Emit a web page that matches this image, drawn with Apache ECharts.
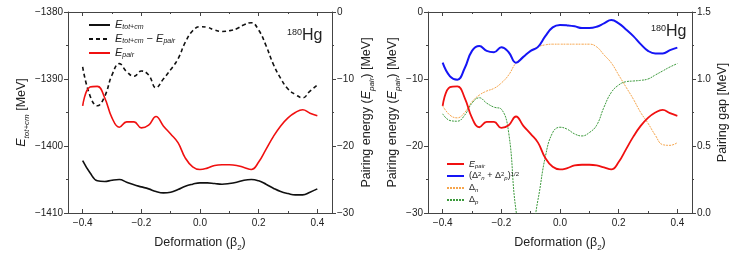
<!DOCTYPE html>
<html><head><meta charset="utf-8">
<script src="https://cdn.jsdelivr.net/npm/echarts@6/dist/echarts.min.js"></script>
<style>html,body{margin:0;padding:0;background:#fff}#c{width:747px;height:258px}</style>
</head><body><div id="c"></div>
<script>
// ---- data ----
const beta = [-0.4,-0.375,-0.35,-0.325,-0.3,-0.275,-0.25,-0.225,-0.2,-0.175,-0.15,-0.125,-0.1,-0.075,-0.05,-0.025,0,0.025,0.05,0.075,0.1,0.125,0.15,0.175,0.2,0.225,0.25,0.275,0.3,0.325,0.35,0.375,0.4];
const eTot = [-1402.2,-1404.0,-1405.2,-1405.3,-1405.1,-1405.0,-1405.4,-1405.8,-1406.1,-1406.4,-1406.8,-1407.0,-1406.9,-1406.5,-1406.0,-1405.7,-1405.5,-1405.5,-1405.6,-1405.7,-1405.6,-1405.4,-1405.1,-1405.0,-1405.2,-1405.7,-1406.3,-1406.8,-1407.1,-1407.3,-1407.3,-1406.9,-1406.4];
const eTotMinusPair = [-1388.2,-1392.5,-1394.0,-1392.6,-1389.4,-1387.7,-1388.9,-1389.6,-1388.8,-1389.4,-1391.3,-1390.0,-1388.6,-1387.0,-1384.5,-1382.8,-1382.2,-1382.3,-1382.7,-1382.9,-1382.8,-1382.5,-1381.9,-1381.6,-1382.7,-1385.0,-1387.8,-1389.9,-1391.5,-1392.3,-1392.8,-1391.8,-1390.9];
const ePair = [-14.0,-11.2,-11.1,-12.8,-15.8,-17.2,-16.4,-16.4,-17.3,-16.9,-15.6,-17.0,-18.2,-19.5,-21.8,-23.1,-23.5,-23.3,-22.9,-22.8,-22.8,-22.9,-23.2,-23.5,-22.4,-20.5,-18.6,-17.0,-15.8,-15.0,-14.6,-15.1,-15.5];
const gapTotal = [1.122,1.02,0.995,1.08,1.21,1.246,1.21,1.2,1.237,1.20,1.122,1.165,1.21,1.24,1.32,1.385,1.403,1.40,1.393,1.38,1.38,1.39,1.415,1.44,1.415,1.37,1.32,1.26,1.21,1.19,1.19,1.215,1.234];
const gapN = [0.80,0.73,0.71,0.75,0.83,0.88,0.91,0.93,0.97,1.03,1.12,1.165,1.21,1.24,1.255,1.26,1.26,1.26,1.26,1.26,1.26,1.24,1.18,1.12,1.03,0.94,0.85,0.75,0.67,0.58,0.51,0.505,0.525];
const gapP = [0.74,0.69,0.685,0.73,0.82,0.86,0.82,0.79,0.775,0.60,0.02,-0.2,-0.15,0.10,0.42,0.60,0.64,0.625,0.59,0.575,0.60,0.655,0.79,0.90,0.955,0.98,0.985,0.99,1.0,1.03,1.06,1.09,1.115];
const xMajorTicks = [-0.4,-0.2,0,0.2,0.4];
const xMinorTicks = [-0.3,-0.1,0.1,0.3];

// ---- styling ----
const FONT = 'Liberation Sans, Arial, Helvetica, sans-serif';
const AX = '#444';
const TX = '#222';
const minus = s => String(s).replace('-', '\u2212');
const pairs = arr => beta.map((b, i) => [b, arr[i]]);

const nameRich = {
  i: {fontStyle: 'italic', fontSize: 12.5, fontFamily: FONT, color: TX},
  sub: {fontStyle: 'italic', fontSize: 8, fontFamily: FONT, color: TX, verticalAlign: 'bottom', lineHeight: 18},
  s2: {fontSize: 8, fontFamily: FONT, color: TX, verticalAlign: 'bottom', lineHeight: 18}
};
const nameStyle = {fontSize: 12.5, fontFamily: FONT, color: TX, lineHeight: 16, rich: nameRich};

function xAxes(g) {
  const c = {type: 'value', gridIndex: g, min: -0.45, max: 0.45, splitLine: {show: false}};
  return [
    Object.assign({}, c, {position: 'bottom',
      axisLine: {show: true, onZero: false, lineStyle: {color: AX, width: 1}},
      axisTick: {show: true, inside: true, length: 4, customValues: xMajorTicks, lineStyle: {color: AX}},
      axisLabel: {customValues: xMajorTicks, formatter: v => minus(v.toFixed(1)), fontSize: 10, color: TX, margin: 5, fontFamily: FONT},
      name: 'Deformation (β{s2|2})', nameLocation: 'middle', nameGap: 21, nameTextStyle: nameStyle}),
    Object.assign({}, c, {position: 'bottom', axisLine: {show: false, onZero: false},
      axisTick: {show: true, inside: true, length: 2, customValues: xMinorTicks, lineStyle: {color: AX}},
      axisLabel: {show: false}}),
    Object.assign({}, c, {position: 'top', axisLine: {show: true, onZero: false, lineStyle: {color: AX, width: 1}},
      axisTick: {show: true, inside: true, length: 4, customValues: xMajorTicks, lineStyle: {color: AX}},
      axisLabel: {show: false}}),
    Object.assign({}, c, {position: 'top', axisLine: {show: false, onZero: false},
      axisTick: {show: true, inside: true, length: 2, customValues: xMinorTicks, lineStyle: {color: AX}},
      axisLabel: {show: false}})
  ];
}
function yAxis(g, pos, min, max, interval, fmt, name, gap) {
  return {type: 'value', gridIndex: g, position: pos, min, max, interval,
    axisLine: {show: true, onZero: false, lineStyle: {color: AX, width: 1}},
    axisTick: {show: true, inside: false, length: 4, lineStyle: {color: AX}},
    minorTick: {show: true, splitNumber: 2, length: 2, lineStyle: {color: AX}},
    axisLabel: {formatter: fmt, fontSize: 10, color: TX, margin: 5, fontFamily: FONT},
    splitLine: {show: false},
    name, nameLocation: 'middle', nameRotate: 90, nameGap: gap, nameTextStyle: nameStyle};
}
const intFmt = v => minus(v);
const gapFmt = v => v.toFixed(1);

const legRich = (big, small) => ({
  i: {fontStyle: 'italic', fontSize: big, fontFamily: FONT, color: TX},
  sub: {fontStyle: 'italic', fontSize: small, fontFamily: FONT, color: TX, verticalAlign: 'bottom'},
  sup: {fontSize: small, fontFamily: FONT, color: TX, verticalAlign: 'top'},
  n: {fontSize: big, fontFamily: FONT, color: TX}
});
const legendNames = {
  'Etot': '{i|E}{sub|tot+cm}',
  'EtotMinusPair': '{i|E}{sub|tot+cm}{n| \u2212 }{i|E}{sub|pair}',
  'Epair': '{i|E}{sub|pair}',
  'Epair2': '{i|E}{sub|pair}',
  'gapTotal': '{n|(Δ}{sup|2}{sub|n}{n| + Δ}{sup|2}{sub|p}{n|)}{sup|1/2}',
  'gapN': '{n|Δ}{sub|n}',
  'gapP': '{n|Δ}{sub|p}'
};

const line = (name, xi, yi, data, color, width, type, z) => ({
  name, type: 'line', xAxisIndex: xi, yAxisIndex: yi, data: pairs(data),
  smooth: 0.45, symbol: 'none', z: z || 2,
  lineStyle: {color, width, type}, itemStyle: {color}
});

const option = {
  animation: false,
  backgroundColor: '#fff',
  grid: [
    {left: 68, right: 415, top: 12, bottom: 45, containLabel: false},
    {left: 428, right: 55, top: 12, bottom: 45, containLabel: false}
  ],
  xAxis: [...xAxes(0), ...xAxes(1)],
  yAxis: [
    yAxis(0, 'left', -1410, -1380, 10, intFmt, '{i|E}{sub|tot+cm} [MeV]', 36),
    yAxis(0, 'right', -30, 0, 10, intFmt, 'Pairing energy ({i|E}{sub|pair}) [MeV]', 22),
    yAxis(1, 'left', -30, 0, 10, intFmt, 'Pairing energy ({i|E}{sub|pair}) [MeV]', 26),
    yAxis(1, 'right', 0, 1.5, 0.5, gapFmt, 'Pairing gap [MeV]', 22)
  ],
  legend: [
    {data: ['Etot', 'EtotMinusPair', 'Epair'], orient: 'vertical', left: 83, top: 14,
     itemWidth: 21, itemHeight: 10, itemGap: 2, formatter: n => legendNames[n],
     itemStyle: {opacity: 0},
     textStyle: {fontSize: 11, fontFamily: FONT, color: TX, lineHeight: 12, rich: legRich(11, 7)}},
    {data: ['Epair2', 'gapTotal', 'gapN', 'gapP'], orient: 'vertical', left: 441, top: 154,
     itemWidth: 17, itemHeight: 8, itemGap: 2, formatter: n => legendNames[n],
     itemStyle: {opacity: 0},
     textStyle: {fontSize: 9, fontFamily: FONT, color: TX, lineHeight: 10, rich: legRich(9, 6)}}
  ],
  graphic: [
    {type: 'text', left: 287, top: 28, style: {text: '{s|180}{b|Hg}', rich: {
      s: {fontSize: 9, fontFamily: FONT, fill: TX, verticalAlign: 'top'},
      b: {fontSize: 16, fontFamily: FONT, fill: TX}}}},
    {type: 'text', left: 651, top: 24, style: {text: '{s|180}{b|Hg}', rich: {
      s: {fontSize: 9, fontFamily: FONT, fill: TX, verticalAlign: 'top'},
      b: {fontSize: 16, fontFamily: FONT, fill: TX}}}}
  ],
  series: [
    line('Etot', 0, 0, eTot, '#111', 1.6, 'solid'),
    line('EtotMinusPair', 0, 0, eTotMinusPair, '#111', 1.6, [4, 3]),
    line('Epair', 0, 1, ePair, '#f01010', 1.6, 'solid'),
    line('gapN', 4, 3, gapN, '#f6a54c', 1, [2, 1]),
    line('gapP', 4, 3, gapP, '#3d9a3d', 1, [2, 1]),
    line('gapTotal', 4, 3, gapTotal, '#1515f5', 2, 'solid', 3),
    line('Epair2', 4, 2, ePair, '#f01010', 1.8, 'solid', 3)
  ]
};
echarts.init(document.getElementById('c'), null, {renderer: 'canvas'}).setOption(option);
</script></body></html>
